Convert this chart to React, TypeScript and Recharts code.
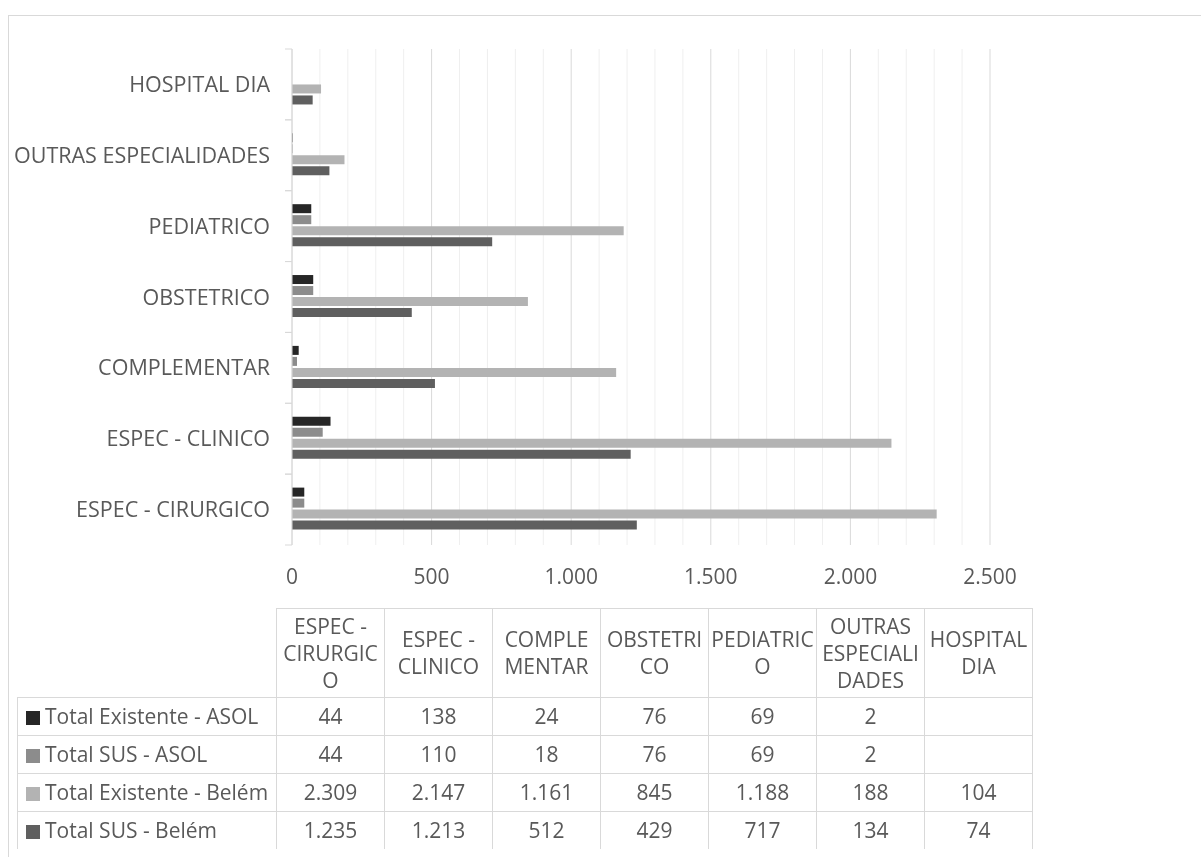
import React from 'react';
import { BarChart, Bar, XAxis, YAxis, CartesianGrid } from 'recharts';

const categories = [
    'ESPEC - CIRURGICO',
    'ESPEC - CLINICO',
    'COMPLEMENTAR',
    'OBSTETRICO',
    'PEDIATRICO',
    'OUTRAS ESPECIALIDADES',
    'HOSPITAL DIA',
];

// header cells in the data table wrap like this
const headerLines = [
    ['ESPEC -', 'CIRURGIC', 'O'],
    ['ESPEC -', 'CLINICO'],
    ['COMPLE', 'MENTAR'],
    ['OBSTETRI', 'CO'],
    ['PEDIATRIC', 'O'],
    ['OUTRAS', 'ESPECIALI', 'DADES'],
    ['HOSPITAL', 'DIA'],
];

const existenteAsol = [44, 138, 24, 76, 69, 2, null];
const susAsol = [44, 110, 18, 76, 69, 2, null];
const existenteBelem = [2309, 2147, 1161, 845, 1188, 188, 104];
const susBelem = [1235, 1213, 512, 429, 717, 134, 74];

const xTicks = [0, 100, 200, 300, 400, 500, 600, 700, 800, 900, 1000, 1100, 1200, 1300, 1400, 1500, 1600, 1700, 1800, 1900, 2000, 2100, 2200, 2300, 2400, 2500];

const series = [
    { key: 'existenteAsol', name: 'Total Existente - ASOL', color: '#262626', values: existenteAsol },
    { key: 'susAsol', name: 'Total SUS - ASOL', color: '#8c8c8c', values: susAsol },
    { key: 'existenteBelem', name: 'Total Existente - Belém', color: '#b3b3b3', values: existenteBelem },
    { key: 'susBelem', name: 'Total SUS - Belém', color: '#5f5f5f', values: susBelem },
];

const data = categories.map((name, i) => {
    const row: any = { name };
    series.forEach((s) => { row[s.key] = s.values[i]; });
    return row;
});

const FONT = '"Open Sans", sans-serif';
const TEXT = '#595959';
const LINE = '#d9d9d9';

const CHART_W = 1050;
const CHART_H = 597;
const MARGIN = { top: 41, right: 68, bottom: 0, left: 0 };
const Y_AXIS_W = 284;
const X_AXIS_H = 60;
const HALF_BAND = (CHART_H - MARGIN.top - X_AXIS_H) / categories.length / 2;

const fmt = (v: number | null) => {
    if (v === null || v === undefined) return '';
    return String(v).replace(/\B(?=(\d{3})+(?!\d))/g, '.');
};

const CategoryTick = ({ x, y, payload }: any) => (
    <g>
        <line x1={x - 7} x2={x} y1={y - HALF_BAND} y2={y - HALF_BAND} stroke={LINE} />
        <line x1={x - 7} x2={x} y1={y + HALF_BAND} y2={y + HALF_BAND} stroke={LINE} />
        <text x={x - 22} y={y} dy="0.35em" textAnchor="end" fill={TEXT} fontSize={21.5} fontFamily={FONT}>
            {payload.value}
        </text>
    </g>
);

const gridLine = (props: any) => {
    const major = props.index % 5 === 0;
    return (
        <line
            key={props.key}
            x1={props.x1}
            y1={props.y1}
            x2={props.x2}
            y2={props.y2}
            stroke={major ? LINE : '#efefef'}
            strokeWidth={1}
        />
    );
};

const cell: React.CSSProperties = {
    border: `1px solid ${LINE}`,
    padding: 0,
    textAlign: 'center',
    verticalAlign: 'middle',
    whiteSpace: 'nowrap',
};

export default function App() {
    return (
        <div style={{ position: 'relative', width: 1185, height: 841, fontFamily: FONT, color: TEXT }}>
            <div
                style={{
                    position: 'fixed',
                    left: 8,
                    top: 15,
                    width: 1193,
                    height: 842,
                    borderTop: `1px solid ${LINE}`,
                    borderLeft: `1px solid ${LINE}`,
                    boxSizing: 'border-box',
                }}
            />
            <div style={{ position: 'absolute', left: 0, top: 0 }}>
                <BarChart
                    width={CHART_W}
                    height={CHART_H}
                    data={data}
                    layout="vertical"
                    margin={MARGIN}
                    barCategoryGap="19%"
                    barGap={2}
                >
                    <CartesianGrid horizontal={false} vertical={gridLine} />
                    <XAxis
                        type="number"
                        domain={[0, 2500]}
                        ticks={xTicks}
                        interval={0}
                        height={X_AXIS_H}
                        axisLine={false}
                        tickLine={false}
                        tickSize={0}
                        tickMargin={24}
                        tickFormatter={(v: number) => (v % 500 === 0 ? fmt(v) : '')}
                        tick={{ fill: TEXT, fontSize: 21, fontFamily: FONT }}
                    />
                    <YAxis
                        type="category"
                        dataKey="name"
                        reversed
                        width={Y_AXIS_W}
                        axisLine={{ stroke: LINE }}
                        tickLine={false}
                        tickSize={0}
                        tickMargin={0}
                        interval={0}
                        tick={<CategoryTick />}
                    />
                    {series.map((s) => (
                        <Bar key={s.key} dataKey={s.key} name={s.name} fill={s.color} isAnimationActive={false} />
                    ))}
                </BarChart>
            </div>
            <table
                style={{
                    position: 'absolute',
                    left: 9,
                    top: 600,
                    borderCollapse: 'collapse',
                    tableLayout: 'fixed',
                    fontSize: 21,
                    lineHeight: '27px',
                    color: TEXT,
                }}
            >
                <colgroup>
                    <col style={{ width: 259 }} />
                    {categories.map((c) => (
                        <col key={c} style={{ width: 108 }} />
                    ))}
                </colgroup>
                <tbody>
                    <tr style={{ height: 89 }}>
                        <td style={{ padding: 0, border: 'none' }} />
                        {headerLines.map((lines, i) => (
                            <td key={i} style={cell}>
                                {lines.map((l, j) => (
                                    <div key={j}>{l}</div>
                                ))}
                            </td>
                        ))}
                    </tr>
                    {series.map((s) => (
                        <tr key={s.key} style={{ height: 38 }}>
                            <td style={{ ...cell, textAlign: 'left', paddingLeft: 8 }}>
                                <span
                                    style={{
                                        display: 'inline-block',
                                        width: 14,
                                        height: 14,
                                        background: s.color,
                                        marginRight: 5,
                                        verticalAlign: '-1px',
                                    }}
                                />
                                {s.name}
                            </td>
                            {s.values.map((v, i) => (
                                <td key={i} style={cell}>{fmt(v)}</td>
                            ))}
                        </tr>
                    ))}
                </tbody>
            </table>
        </div>
    );
}
